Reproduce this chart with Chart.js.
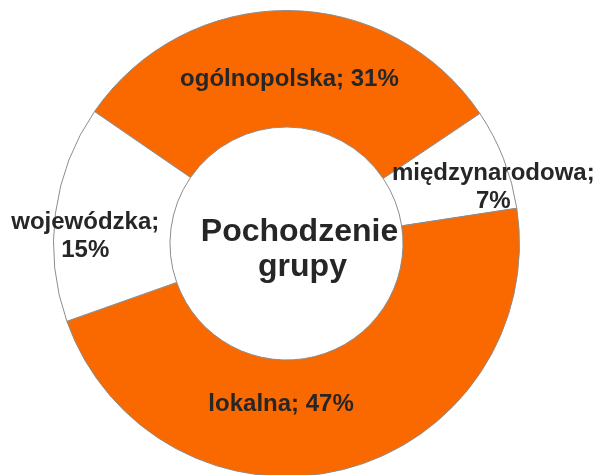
<!DOCTYPE html>
<html lang="pl">
<head>
<meta charset="utf-8">
<title>Pochodzenie grupy</title>
<script src="https://cdn.jsdelivr.net/npm/chart.js@4/dist/chart.umd.min.js"></script>
<style>
  html, body { margin: 0; padding: 0; background: #fff; overflow: hidden; }
  #wrap { position: absolute; left: 0; top: 0; width: 597px; height: 490px; }
</style>
</head>
<body>
<div id="wrap"><canvas id="chart-origin"></canvas></div>
<script>
// ===== Pochodzenie grupy - doughnut =====

const categories = ['ogólnopolska', 'międzynarodowa', 'lokalna', 'wojewódzka'];
const shares = [31, 7, 47, 15];
// how each label is broken into lines in the picture
const labelLines = [
  ['ogólnopolska; 31%'],
  ['międzynarodowa;', '7%'],
  ['lokalna; 47%'],
  ['wojewódzka;', '15%']
];
const centerTitle = ['Pochodzenie', 'grupy'];

const ORANGE = '#FA6900';
const TEXT = '#262626';
const FONT = '"Liberation Sans", Arial, Helvetica, sans-serif';

// nudges from each slice centroid to where the label sits
const labelNudge = [
  { dx: 2, dy: 11 },
  { dx: 44, dy: 7 },
  { dx: -48, dy: -9 },
  { dx: -28, dy: 16 }
];

const labelPlugin = {
  id: 'sliceLabels',
  afterDatasetsDraw(chart) {
    const { ctx } = chart;
    const meta = chart.getDatasetMeta(0);
    ctx.save();
    ctx.fillStyle = TEXT;
    ctx.textAlign = 'center';
    ctx.textBaseline = 'middle';
    ctx.font = 'bold 24px ' + FONT;
    meta.data.forEach((arc, i) => {
      const p = arc.tooltipPosition();
      const lines = labelLines[i];
      const lh = 28;
      const x = p.x + labelNudge[i].dx;
      const y0 = p.y + labelNudge[i].dy - (lines.length - 1) * lh / 2;
      lines.forEach((t, j) => ctx.fillText(t, x, y0 + j * lh));
    });

    // title in the hole
    const c = meta.data[0];
    ctx.font = 'bold 32px ' + FONT;
    ctx.fillText(centerTitle[0], c.x + 13, c.y - 11);
    ctx.fillText(centerTitle[1], c.x + 16, c.y + 24);
    ctx.restore();
  }
};

new Chart(document.getElementById('chart-origin'), {
  type: 'doughnut',
  data: {
    labels: categories,
    datasets: [{
      data: shares,
      backgroundColor: [ORANGE, '#FFFFFF', ORANGE, '#FFFFFF'],
      borderColor: '#8C8C8C',
      borderWidth: 1
    }]
  },
  options: {
    responsive: true,
    maintainAspectRatio: false,
    animation: false,
    rotation: 304.5,
    cutout: '50%',
    layout: { padding: { left: 53, top: 10, right: 77, bottom: 13 } },
    plugins: {
      legend: { display: false },
      tooltip: { enabled: false }
    }
  },
  plugins: [labelPlugin]
});
</script>
</body>
</html>
